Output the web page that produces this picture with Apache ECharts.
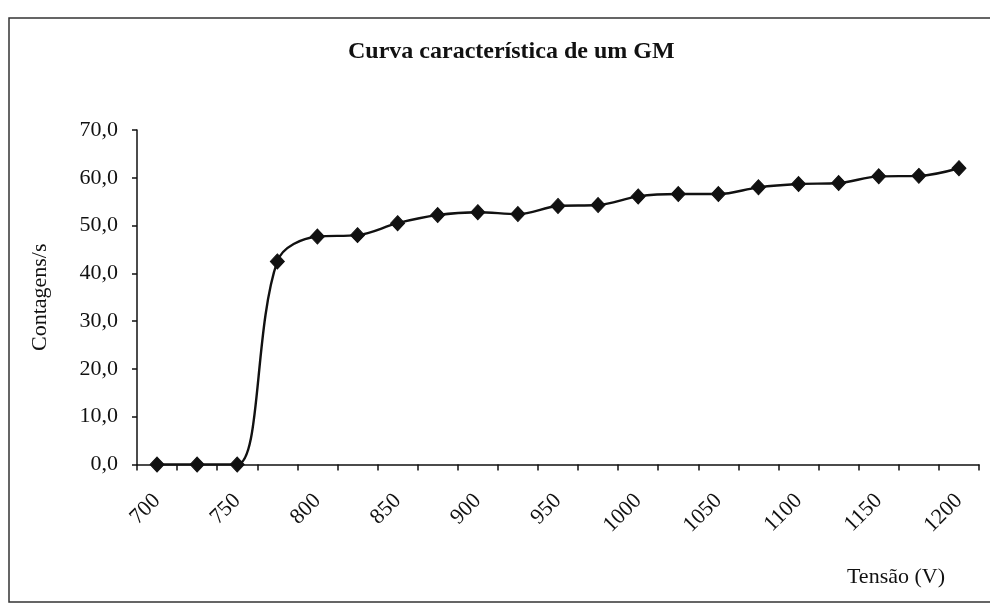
<!DOCTYPE html>
<html>
<head>
<meta charset="utf-8">
<script src="https://cdn.jsdelivr.net/npm/echarts@6/dist/echarts.min.js"></script>
<style>
  html, body { margin: 0; padding: 0; background: #fff; }
  #chart { width: 990px; height: 604px; }
</style>
</head>
<body>
<div id="chart"></div>
<script>
// Tensão aplicada (V)
const tensoes = ['700', '725', '750', '775', '800', '825', '850', '875', '900', '925', '950',
                 '975', '1000', '1025', '1050', '1075', '1100', '1125', '1150', '1175', '1200'];
// Contagens por segundo medidas
const contagens = [0.0, 0.0, 0.0, 42.5, 47.7, 48.0, 50.5, 52.2, 52.8, 52.4, 54.1,
                   54.3, 56.1, 56.6, 56.6, 58.0, 58.7, 58.9, 60.3, 60.4, 62.0];

const serif = '"Liberation Serif", "Times New Roman", serif';
const ink = '#111';

const chart = echarts.init(document.getElementById('chart'), null, { renderer: 'canvas' });

chart.setOption({
  backgroundColor: '#fff',
  animation: false,
  title: {
    text: 'Curva característica de um GM',
    left: 343,
    top: 35,
    textStyle: { fontFamily: serif, fontSize: 24, fontWeight: 'bold', color: ink }
  },
  graphic: [{
    type: 'rect',
    shape: { x: 9, y: 18, width: 1000, height: 584 },
    style: { fill: 'none', stroke: '#333', lineWidth: 1.5 },
    silent: true
  }],
  grid: { left: 137, right: 11, top: 130, bottom: 139.5, containLabel: false },
  xAxis: {
    type: 'category',
    data: tensoes,
    boundaryGap: true,
    name: 'Tensão (V)',
    nameLocation: 'end',
    nameGap: -34,
    nameTextStyle: {
      fontFamily: serif, fontSize: 22, color: ink,
      align: 'right', verticalAlign: 'top', padding: [102, 0, 0, 0]
    },
    axisLine: { lineStyle: { color: ink, width: 1.5 } },
    axisTick: { show: true, interval: 0, inside: false, length: 6, lineStyle: { color: ink, width: 1.5 } },
    axisLabel: {
      interval: 1, rotate: 45, margin: 33,
      fontFamily: serif, fontSize: 22, color: ink
    },
    splitLine: { show: false }
  },
  yAxis: {
    type: 'value',
    min: 0, max: 70, interval: 10,
    name: 'Contagens/s',
    nameLocation: 'middle',
    nameGap: 86,
    nameTextStyle: { fontFamily: serif, fontSize: 22, color: ink },
    axisLine: { show: true, lineStyle: { color: ink, width: 1.5 } },
    axisTick: { show: true, inside: false, length: 5, lineStyle: { color: ink, width: 1.5 } },
    axisLabel: {
      margin: 19,
      fontFamily: serif, fontSize: 22, color: ink,
      formatter: v => v.toFixed(1).replace('.', ',')
    },
    splitLine: { show: false }
  },
  series: [{
    type: 'line',
    data: contagens,
    smooth: 0.35,
    symbol: 'diamond',
    symbolSize: [14, 15],
    showAllSymbol: true,
    lineStyle: { color: ink, width: 2.4 },
    itemStyle: { color: ink, borderColor: ink }
  }]
});
</script>
</body>
</html>
